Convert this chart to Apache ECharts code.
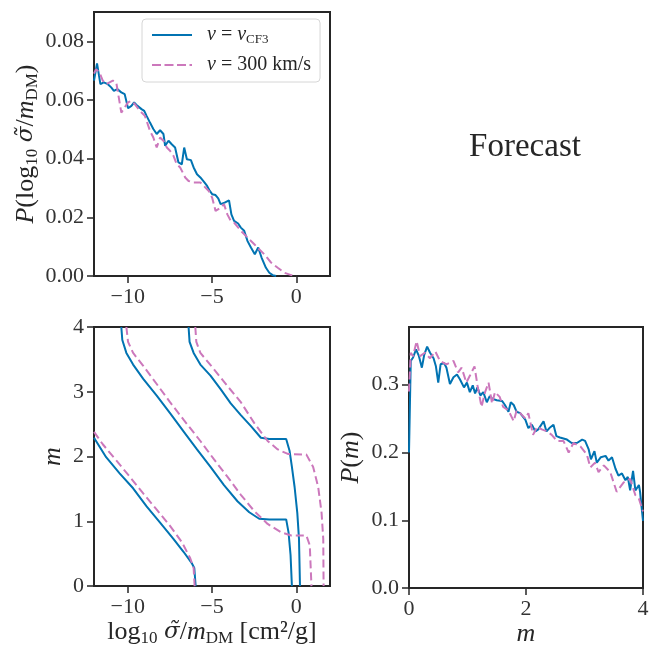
<!DOCTYPE html>
<html>
<head>
<meta charset="utf-8">
<script src="https://cdn.jsdelivr.net/npm/echarts@6/dist/echarts.min.js"></script>
<style>
  html, body { margin: 0; padding: 0; background: #fff; }
  #chart { width: 657px; height: 648px; }
</style>
</head>
<body>
<div id="chart"></div>
<script>
// P(log10 sigma/m) -- blue: v = v_CF3, pink: v = 300 km/s
const sigBlueX = [-12.0, -11.82, -11.62, -11.42, -11.18, -10.98, -10.82, -10.62, -10.38, -10.18, -9.98, -9.78, -9.62, -9.42, -9.18, -9.02, -8.88, -8.68, -8.48, -8.28, -8.08, -7.88, -7.78, -7.58, -7.39, -7.19, -6.99, -6.79, -6.65, -6.49, -6.25, -6.09, -5.89, -5.69, -5.45, -5.29, -5.13, -4.99, -4.79, -4.63, -4.49, -4.25, -3.99, -3.85, -3.69, -3.45, -3.29, -3.09, -2.89, -2.69, -2.46, -2.26, -2.06, -1.80, -1.60, -1.40, -1.20];
const sigBlueP = [0.0666, 0.0725, 0.0654, 0.0660, 0.0654, 0.0643, 0.0631, 0.0637, 0.0626, 0.0620, 0.0572, 0.0580, 0.0592, 0.0580, 0.0569, 0.0563, 0.0546, 0.0523, 0.0501, 0.0484, 0.0497, 0.0484, 0.0444, 0.0461, 0.0449, 0.0438, 0.0387, 0.0381, 0.0438, 0.0398, 0.0395, 0.0370, 0.0347, 0.0336, 0.0319, 0.0307, 0.0290, 0.0279, 0.0276, 0.0265, 0.0245, 0.0250, 0.0258, 0.0210, 0.0188, 0.0179, 0.0165, 0.0154, 0.0119, 0.0097, 0.0074, 0.0097, 0.0063, 0.0028, 0.0011, 0.0003, 0.0];
const sigPinkX = [-12.0, -11.88, -11.68, -11.48, -11.28, -11.08, -10.88, -10.68, -10.38, -10.18, -9.98, -9.78, -9.58, -9.28, -8.98, -8.68, -8.48, -8.28, -8.08, -7.88, -7.68, -7.49, -7.29, -7.09, -6.89, -6.59, -6.39, -6.09, -5.69, -5.49, -5.19, -4.99, -4.79, -4.49, -4.29, -4.09, -3.89, -3.69, -3.29, -2.89, -2.49, -2.20, -1.90, -1.50, -1.10, -0.70, -0.30, 0.0];
const sigPinkP = [0.0690, 0.0705, 0.0694, 0.0666, 0.0654, 0.0660, 0.0666, 0.0660, 0.0557, 0.0575, 0.0592, 0.0597, 0.0586, 0.0563, 0.0546, 0.0495, 0.0472, 0.0438, 0.0472, 0.0461, 0.0438, 0.0427, 0.0410, 0.0381, 0.0370, 0.0336, 0.0324, 0.0319, 0.0319, 0.0307, 0.0290, 0.0267, 0.0222, 0.0233, 0.0245, 0.0210, 0.0188, 0.0182, 0.0154, 0.0131, 0.0108, 0.0091, 0.0074, 0.0046, 0.0028, 0.0011, 0.0003, 0.0];

// P(m)
const mBlueX = [0.0, 0.03, 0.07, 0.12, 0.17, 0.22, 0.26, 0.31, 0.36, 0.42, 0.46, 0.50, 0.54, 0.60, 0.64, 0.70, 0.76, 0.82, 0.87, 0.94, 0.99, 1.04, 1.09, 1.13, 1.17, 1.22, 1.27, 1.33, 1.38, 1.43, 1.50, 1.59, 1.64, 1.70, 1.74, 1.79, 1.84, 1.90, 1.99, 2.04, 2.10, 2.16, 2.21, 2.30, 2.35, 2.40, 2.47, 2.52, 2.58, 2.70, 2.78, 2.87, 2.96, 3.01, 3.07, 3.11, 3.17, 3.21, 3.28, 3.36, 3.41, 3.47, 3.53, 3.58, 3.64, 3.70, 3.74, 3.78, 3.83, 3.87, 3.93, 3.95, 4.0];
const mBlueP = [0.200, 0.335, 0.340, 0.352, 0.342, 0.325, 0.344, 0.356, 0.347, 0.339, 0.327, 0.303, 0.330, 0.332, 0.325, 0.301, 0.311, 0.315, 0.308, 0.296, 0.303, 0.289, 0.299, 0.287, 0.296, 0.284, 0.289, 0.274, 0.283, 0.279, 0.277, 0.276, 0.270, 0.260, 0.274, 0.270, 0.260, 0.258, 0.248, 0.236, 0.241, 0.231, 0.234, 0.246, 0.231, 0.236, 0.241, 0.224, 0.222, 0.219, 0.214, 0.214, 0.219, 0.217, 0.205, 0.190, 0.202, 0.185, 0.193, 0.195, 0.188, 0.193, 0.176, 0.166, 0.169, 0.159, 0.164, 0.144, 0.173, 0.144, 0.152, 0.142, 0.099];
const mPinkX = [0.0, 0.03, 0.07, 0.13, 0.19, 0.27, 0.36, 0.45, 0.53, 0.64, 0.76, 0.84, 0.90, 0.98, 1.04, 1.12, 1.17, 1.24, 1.30, 1.36, 1.42, 1.47, 1.55, 1.61, 1.70, 1.79, 1.84, 1.90, 1.99, 2.04, 2.12, 2.19, 2.27, 2.36, 2.44, 2.53, 2.64, 2.73, 2.81, 2.93, 3.04, 3.10, 3.18, 3.24, 3.33, 3.44, 3.55, 3.67, 3.78, 3.87, 3.93, 4.0];
const mPinkP = [0.290, 0.347, 0.342, 0.364, 0.342, 0.347, 0.339, 0.349, 0.335, 0.330, 0.335, 0.318, 0.325, 0.303, 0.313, 0.327, 0.299, 0.267, 0.289, 0.303, 0.272, 0.289, 0.282, 0.267, 0.262, 0.246, 0.262, 0.258, 0.250, 0.258, 0.226, 0.238, 0.234, 0.231, 0.226, 0.217, 0.217, 0.200, 0.214, 0.209, 0.197, 0.178, 0.185, 0.171, 0.181, 0.171, 0.142, 0.156, 0.161, 0.137, 0.132, 0.113];

// contours [log10 sigma, m]
const blueInner = [[-6.39, 4.0], [-6.33, 3.77], [-6.09, 3.60], [-5.69, 3.42], [-5.09, 3.25], [-4.49, 3.04], [-3.89, 2.82], [-3.29, 2.64], [-2.69, 2.47], [-2.10, 2.29], [-1.60, 2.27], [-0.60, 2.27], [-0.40, 2.09], [-0.26, 1.84], [-0.10, 1.53], [0.06, 1.13], [0.16, 0.73], [0.22, 0.0]];
const blueMiddle = [[-10.38, 4.0], [-10.32, 3.80], [-10.08, 3.60], [-9.68, 3.42], [-9.08, 3.20], [-8.28, 2.94], [-7.49, 2.67], [-6.69, 2.39], [-5.89, 2.11], [-5.09, 1.84], [-4.29, 1.56], [-3.49, 1.31], [-2.79, 1.14], [-2.20, 1.04], [-1.60, 1.03], [-0.60, 1.03], [-0.46, 0.83], [-0.34, 0.48], [-0.26, 0.0]];
const blueLeft = [[-12.0, 2.29], [-11.28, 1.99], [-10.48, 1.74], [-9.68, 1.51], [-8.88, 1.23], [-8.08, 0.98], [-7.29, 0.73], [-6.69, 0.53], [-6.19, 0.35], [-6.05, 0.28], [-5.97, 0.0]];
const pinkInner = [[-5.99, 4.0], [-5.93, 3.77], [-5.69, 3.60], [-4.89, 3.35], [-4.09, 3.09], [-3.29, 2.84], [-2.50, 2.52], [-1.70, 2.24], [-1.10, 2.11], [-0.50, 2.04], [0.60, 2.03], [1.00, 1.84], [1.30, 1.53], [1.50, 1.13], [1.60, 0.73], [1.62, 0.0]];
const pinkMiddle = [[-10.08, 4.0], [-9.98, 3.77], [-9.68, 3.60], [-9.08, 3.40], [-8.28, 3.12], [-7.49, 2.84], [-6.69, 2.57], [-5.69, 2.24], [-4.89, 1.96], [-4.09, 1.69], [-3.29, 1.41], [-2.50, 1.16], [-1.70, 0.96], [-0.90, 0.83], [-0.30, 0.78], [0.60, 0.78], [0.80, 0.63], [0.90, 0.0]];
const pinkLeft = [[-12.0, 2.38], [-11.48, 2.19], [-10.68, 1.94], [-9.88, 1.69], [-9.08, 1.43], [-8.28, 1.18], [-7.49, 0.93], [-6.79, 0.68], [-6.29, 0.43], [-6.09, 0.28], [-6.03, 0.0]];

const sigTicks = [-10, -5, 0];
const sigPTicks = [0, 0.02, 0.04, 0.06, 0.08];
const mTicks = [0, 1, 2, 3, 4];
const mXTicks = [0, 2, 4];
const mPTicks = [0, 0.1, 0.2, 0.3];

const BLUE = '#0173b2';
const PINK = '#cc78bc';
const INK = '#262626';
const SERIF = 'Liberation Serif';

const zip = (xs, ys) => xs.map((x, i) => [x, ys[i]]);
const minus = v => String(v).replace('-', '\u2212');

const rich = {
    i: { fontFamily: SERIF, fontStyle: 'italic', fontSize: 26, color: INK },
    r: { fontFamily: SERIF, fontSize: 26, color: INK },
    g: { fontFamily: 'DejaVu Serif', fontStyle: 'italic', fontSize: 23, color: INK },
    s: { fontFamily: SERIF, fontSize: 17, color: INK, padding: [13, 0, 0, 0] }
};

function axis(gridIndex, min, max, ticks, fmt, extra) {
    return Object.assign({
        type: 'value', gridIndex, min, max,
        splitLine: { show: false },
        axisLine: { show: false, onZero: false },
        axisTick: { show: true, length: 7, customValues: ticks, lineStyle: { color: INK, width: 1.5 } },
        axisLabel: { customValues: ticks, formatter: fmt, fontFamily: SERIF, fontSize: 22, color: '#333', margin: 10 },
        nameTextStyle: { rich }
    }, extra || {});
}

function line(name, data, xi, yi, dashed) {
    return {
        name, type: 'line', data, xAxisIndex: xi, yAxisIndex: yi,
        showSymbol: false, symbol: 'none', silent: true, animation: false,
        lineStyle: { color: dashed ? PINK : BLUE, width: 2, type: dashed ? [8, 4] : 'solid' },
        itemStyle: { color: dashed ? PINK : BLUE }
    };
}

const legendRich = {
    i: { fontFamily: SERIF, fontStyle: 'italic', fontSize: 20, color: INK },
    r: { fontFamily: SERIF, fontSize: 20, color: INK },
    s: { fontFamily: SERIF, fontSize: 13, color: INK, padding: [9, 0, 0, 0] }
};

const chart = echarts.init(document.getElementById('chart'));
chart.setOption({
    animation: false,
    grid: [
        { left: 94, top: 12, width: 236, height: 264, show: true, borderColor: INK, borderWidth: 2 },
        { left: 94, top: 327, width: 236, height: 265, show: true, borderColor: INK, borderWidth: 2 },
        { left: 409, top: 327, width: 234, height: 265, show: true, borderColor: INK, borderWidth: 2 }
    ],
    xAxis: [
        axis(0, -12, 2, sigTicks, minus),
        axis(1, -12, 2, sigTicks, minus, {
            name: '{r|log}{s|10}{r| }{g|σ̃}{r|/}{i|m}{s|DM}{r| [cm²/g]}',
            nameLocation: 'middle', nameGap: 30
        }),
        axis(2, 0, 4, mXTicks, v => String(v), {
            name: '{i|m}', nameLocation: 'middle', nameGap: 30
        })
    ],
    yAxis: [
        axis(0, 0, 0.09, sigPTicks, v => v.toFixed(2), {
            name: '{i|P}{r|(log}{s|10}{r| }{g|σ̃}{r|/}{i|m}{s|DM}{r|)}',
            nameLocation: 'middle', nameGap: 53
        }),
        axis(1, 0, 4, mTicks, v => String(v), {
            name: '{i|m}', nameLocation: 'middle', nameGap: 28
        }),
        axis(2, 0, 0.385, mPTicks, v => v.toFixed(1), {
            name: '{i|P}{r|(}{i|m}{r|)}', nameLocation: 'middle', nameGap: 45
        })
    ],
    legend: {
        data: [
            { name: 'cf3', icon: 'path://M0,0H40V2H0Z' },
            { name: 'v300', icon: 'path://M0,0H9V2H0Z M12.5,0H21.5V2H12.5Z M25,0H34V2H25Z M37.5,0H40V2H37.5Z' }
        ],
        left: 142, top: 19, orient: 'vertical',
        padding: [6, 9, 7, 10], itemGap: 9,
        itemWidth: 40, itemHeight: 2,
        borderColor: '#d6d6d6', borderWidth: 1, borderRadius: 4,
        backgroundColor: 'rgba(255,255,255,0.85)',
        formatter: n => n === 'cf3' ? '{i|v}{r| = }{i|v}{s|CF3}' : '{i|v}{r| = 300 km/s}',
        textStyle: { padding: [0, 0, 0, 10], rich: legendRich }
    },
    graphic: [{
        type: 'text', x: 525, y: 147,
        style: { text: 'Forecast', font: '33px "Liberation Serif"', fill: INK, align: 'center', verticalAlign: 'middle' }
    }],
    series: [
        line('cf3', zip(sigBlueX, sigBlueP), 0, 0, false),
        line('v300', zip(sigPinkX, sigPinkP), 0, 0, true),
        line('cf3', blueInner, 1, 1, false),
        line('cf3', blueMiddle, 1, 1, false),
        line('cf3', blueLeft, 1, 1, false),
        line('v300', pinkInner, 1, 1, true),
        line('v300', pinkMiddle, 1, 1, true),
        line('v300', pinkLeft, 1, 1, true),
        line('cf3', zip(mBlueX, mBlueP), 2, 2, false),
        line('v300', zip(mPinkX, mPinkP), 2, 2, true)
    ]
});
</script>
</body>
</html>
